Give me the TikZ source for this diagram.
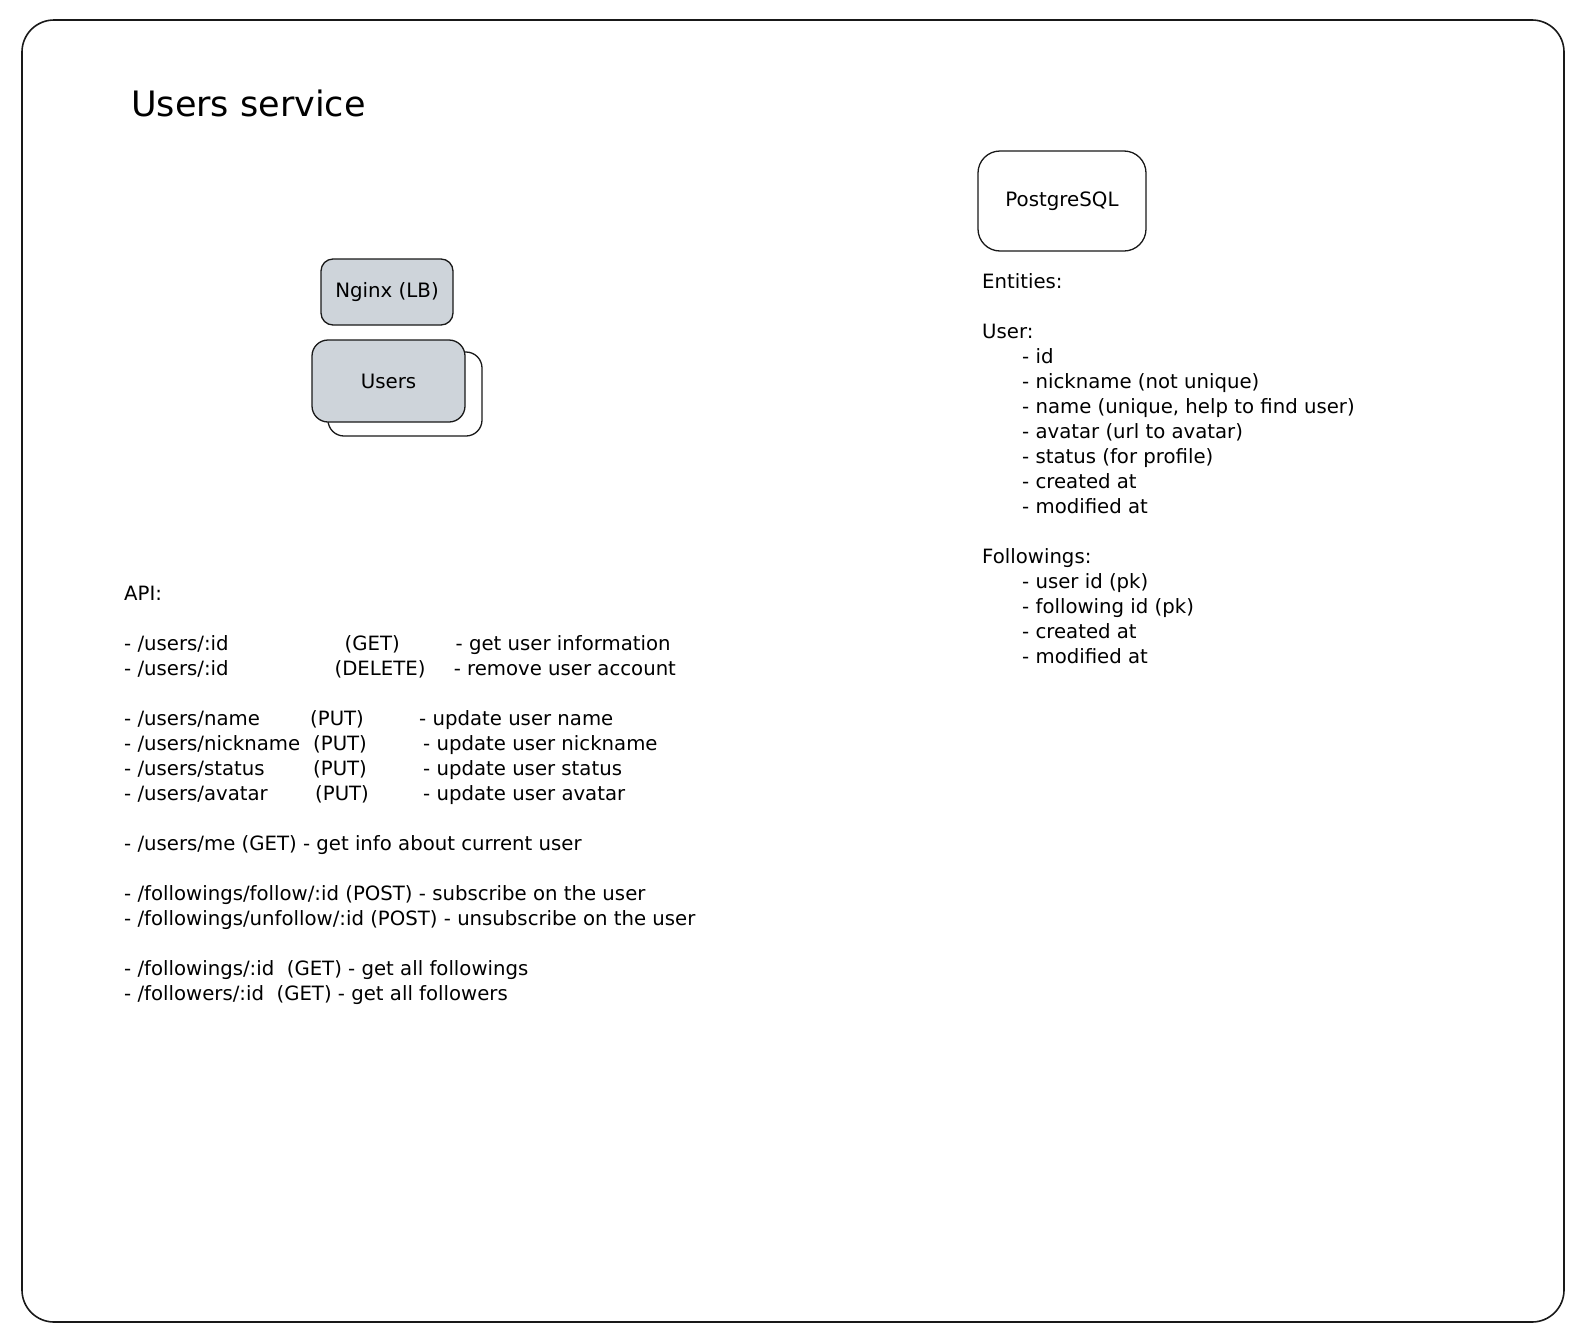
\documentclass[tikz,border=0pt]{standalone}
\usepackage{fontspec}
\setmainfont{DejaVu Sans}
\definecolor{boxgray}{HTML}{CED4DA}
\newcommand\colbox[2]{\makebox[#1pt][l]{#2}}
\begin{document}
\begin{tikzpicture}[x=1pt,y=-1pt,
  frame/.style={draw=black!90, line width=1.6pt, rounded corners=32pt},
  sbox/.style={draw=black!90, line width=1.3pt, rounded corners=12pt, inner sep=0pt,
    font=\fontsize{19.8}{25}\selectfont},
  gbox/.style={sbox, fill=boxgray},
  txt/.style={anchor=base west, inner sep=0pt, font=\fontsize{19.7}{25}\selectfont},
  title/.style={anchor=base west, inner sep=0pt, font=\fontsize{35}{40}\selectfont}]
\useasboundingbox (0,0) rectangle (1584,1336);
\fill[white] (0,0) rectangle (1584,1336);
\draw[frame] (22,20) rectangle (1564,1322);

\node[title] (ttl) at (131,116) {Users service};

\node[gbox, minimum width=132pt, minimum height=66pt] (nginx) at (387,292) {Nginx (LB)};
\node[sbox, fill=white, rounded corners=16pt, minimum width=154pt, minimum height=84pt] (usersback) at (405,394) {};
\node[gbox, rounded corners=16pt, minimum width=153pt, minimum height=82pt] (users) at (388.5,381) {Users};
\node[sbox, fill=white, rounded corners=22pt, minimum width=168pt, minimum height=100pt] (pg) at (1062,201) {PostgreSQL};

% Entities
\node[txt] (ent) at (982,288) {Entities:};
\node[txt] (euser) at (982,338) {User:};
\node[txt] (e1) at (1022,363) {- id};
\node[txt] (e2) at (1022,388) {- nickname (not unique)};
\node[txt] (e3) at (1022,413) {- name (unique, help to find user)};
\node[txt] (e4) at (1022,438) {- avatar (url to avatar)};
\node[txt] (e5) at (1022,463) {- status (for profile)};
\node[txt] (e6) at (1022,488) {- created at};
\node[txt] (e7) at (1022,513) {- modified at};
\node[txt] (efol) at (982,563) {Followings:};
\node[txt] (f1) at (1022,588) {- user id (pk)};
\node[txt] (f2) at (1022,613) {- following id (pk)};
\node[txt] (f3) at (1022,638) {- created at};
\node[txt] (f4) at (1022,663) {- modified at};

% API
\node[txt] (api) at (124,600) {API:};
\node[txt] (a1) at (124,650) {\colbox{220.5}{- /users/:id}\colbox{111}{(GET)}- get user information};
\node[txt] (a2) at (124,675) {\colbox{210.4}{- /users/:id}\colbox{119.2}{(DELETE)}- remove user account};
\node[txt] (a3) at (124,725) {\colbox{186}{- /users/name}\colbox{109}{(PUT)}- update user name};
\node[txt] (a4) at (124,750) {\colbox{189}{- /users/nickname}\colbox{110}{(PUT)}- update user nickname};
\node[txt] (a5) at (124,775) {\colbox{189}{- /users/status}\colbox{110}{(PUT)}- update user status};
\node[txt] (a6) at (124,800) {\colbox{191}{- /users/avatar}\colbox{108}{(PUT)}- update user avatar};
\node[txt] (a7) at (124,850) {- /users/me (GET) - get info about current user};
\node[txt] (a8) at (124,900) {- /followings/follow/:id (POST) - subscribe on the user};
\node[txt] (a9) at (124,925) {- /followings/unfollow/:id (POST) - unsubscribe on the user};
\node[txt] (a10) at (124,975) {- /followings/:id\ \ (GET) - get all followings};
\node[txt] (a11) at (124,1000) {- /followers/:id\ \ (GET) - get all followers};
\end{tikzpicture}
\end{document}
